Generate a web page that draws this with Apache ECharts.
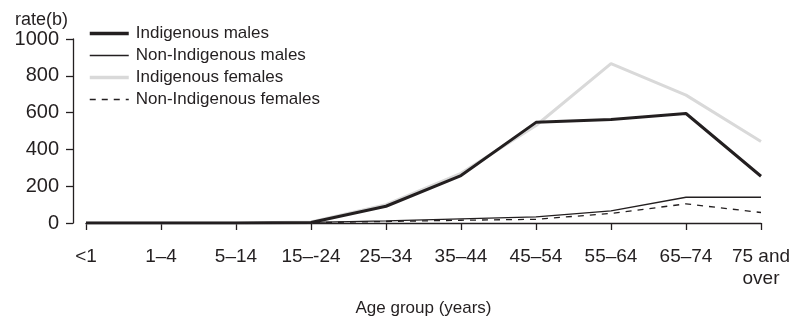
<!DOCTYPE html>
<html><head><meta charset="utf-8">
<script src="https://cdn.jsdelivr.net/npm/echarts@6/dist/echarts.min.js"></script>
<style>html,body{margin:0;padding:0;background:#fff}#c{width:794px;height:322px}</style>
</head><body><div id="c"></div>
<script>
const categories = ['<1','1–4','5–14','15–-24','25–34','35–44','45–54','55–64','65–74','75 and\nover'];
const indigenousMales = [0,0,0,3,91,258,547,563,595,254];
const nonIndigenousMales = [0,0,0,3,12,22,33,66,140,140];
const indigenousFemales = [0,0,0,5,100,270,530,866,695,443];
const nonIndigenousFemales = [0,0,0,2,8,15,20,52,104,57];
const yTicks = [0,200,400,600,800,1000];

const txt = '#231f20';
const font = '"Liberation Sans", Arial, sans-serif';
const chart = echarts.init(document.getElementById('c'), null, {renderer:'canvas'});
chart.setOption({
  animation:false,
  textStyle:{fontFamily:font,color:txt},
  grid:{left:86,right:33,top:39,bottom:97},
  legend:{
    orient:'vertical',left:88,top:25,padding:0,itemWidth:39,itemHeight:14,itemGap:5,
    itemStyle:{opacity:0},
    textStyle:{fontFamily:font,fontSize:17,color:txt,padding:[0,0,0,2]},
    data:[
      {name:'Indigenous males',lineStyle:{color:'#231f20',width:3.5}},
      {name:'Non-Indigenous males',lineStyle:{color:'#231f20',width:1.5}},
      {name:'Indigenous females',lineStyle:{color:'#d9d9d9',width:3.5}},
      {name:'Non-Indigenous females',lineStyle:{color:'#231f20',width:1.5,type:[6,6]}}
    ]
  },
  graphic:[{type:'text',left:15,top:11,style:{text:'rate(b)',font:'18px '+font,fill:txt}}],
  xAxis:{
    type:'category',data:categories,boundaryGap:false,offset:12,
    axisLine:{lineStyle:{color:txt,width:1.3}},
    axisTick:{length:7,lineStyle:{color:txt,width:1.3},alignWithLabel:true},
    axisLabel:{margin:11,fontSize:19,color:txt,fontFamily:font,interval:0,lineHeight:22},
    name:'Age group (years)',nameLocation:'middle',nameGap:65,
    nameTextStyle:{fontSize:17,color:txt,fontFamily:font}
  },
  yAxis:{
    type:'value',min:0,max:1000,interval:200,offset:13,
    axisLine:{show:true,lineStyle:{color:txt,width:1.3}},
    axisTick:{show:true,length:7,lineStyle:{color:txt,width:1.3}},
    axisLabel:{margin:14,fontSize:20,color:txt,fontFamily:font,
      formatter:v=>yTicks.includes(v)?String(v):''},
    splitLine:{show:false}
  },
  series:[
    {name:'Indigenous males',type:'line',data:indigenousMales,symbol:'none',z:3,
     lineStyle:{color:'#231f20',width:3},itemStyle:{color:'#231f20'}},
    {name:'Non-Indigenous males',type:'line',data:nonIndigenousMales,symbol:'none',z:3,
     lineStyle:{color:'#231f20',width:1.3},itemStyle:{color:'#231f20'}},
    {name:'Indigenous females',type:'line',data:indigenousFemales,symbol:'none',z:2,
     lineStyle:{color:'#d9d9d9',width:3},itemStyle:{color:'#d9d9d9'}},
    {name:'Non-Indigenous females',type:'line',data:nonIndigenousFemales,symbol:'none',z:3,
     lineStyle:{color:'#231f20',width:1.3,type:[6,6]},itemStyle:{color:'#231f20'}}
  ]
});
</script></body></html>
